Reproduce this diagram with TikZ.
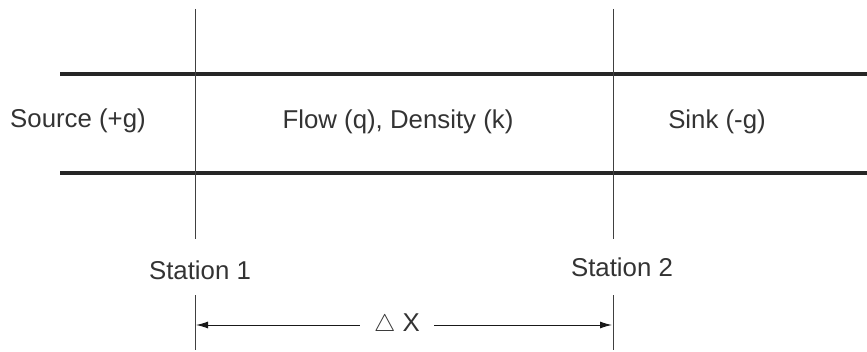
\documentclass[tikz,border=0pt]{standalone}
\usepackage{fontspec}
\setmainfont{Liberation Sans}
\usetikzlibrary{arrows.meta}

\begin{document}
\begin{tikzpicture}[x=.5pt,y=-.5pt]
  \tikzset{lbl/.style={font=\fontsize{12.9}{15}\selectfont,text=black!80},
    road/.style={line width=2pt,black!85},
    stn/.style={line width=.5pt,black!75}}
  \useasboundingbox (0,0) rectangle (867,352);
  % road edges
  \draw[road] (60,74) -- (867,74);
  \draw[road] (60,173) -- (867,173);
  % stations
  \foreach \n/\x in {1/195,2/613} {
    \draw[stn] (\x,9) -- (\x,239);
    \draw[stn] (\x,295) coordinate (t\n) -- (\x,350);
  }
  \node[lbl] (src) at (78,121) {Source (+g)};
  \node[lbl] (flow) at (398,122) {Flow (q), Density (k)};
  \node[lbl] (sink) at (717,122) {Sink (-g)};
  \node[lbl] (st1) at (200,270) {Station 1};
  \node[lbl] (st2) at (622,267) {Station 2};
  % distance
  \coordinate (a1) at (196,325);
  \coordinate (a2) at (612,325);
  \node[lbl,inner sep=7pt] (dx) at (397,325) {$\triangle$ X};
  \draw[stn,black!90,-{Latex[length=6pt,width=3.5pt]}] (dx) -- (a1);
  \draw[stn,black!90,-{Latex[length=6pt,width=3.5pt]}] (dx) -- (a2);
\end{tikzpicture}
\end{document}
